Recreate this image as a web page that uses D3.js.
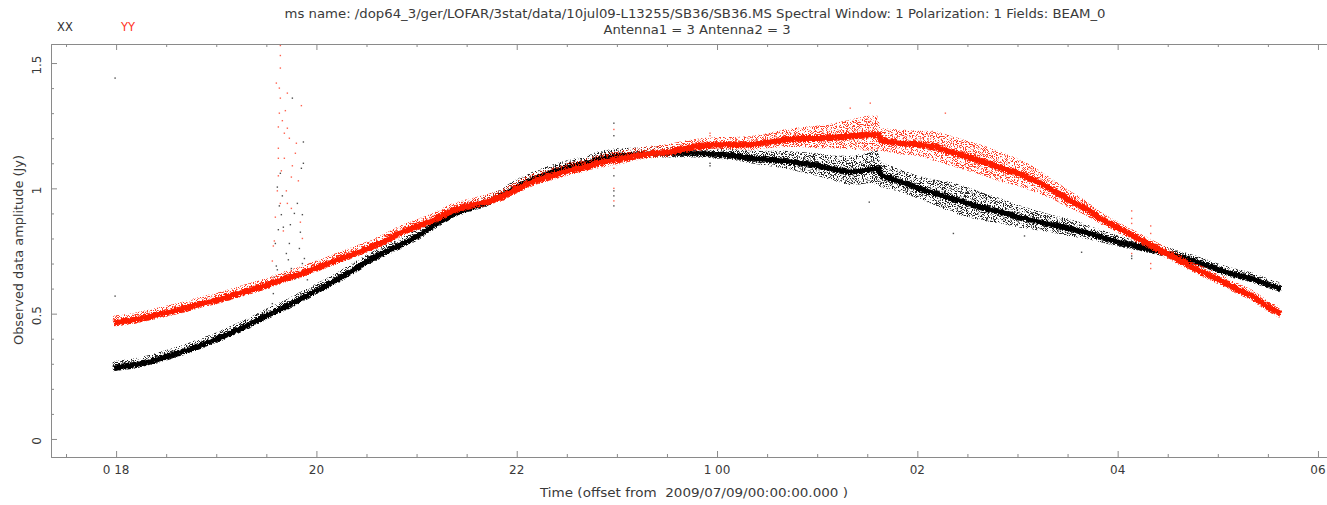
<!DOCTYPE html>
<html><head><meta charset="utf-8">
<script src="https://cdn.jsdelivr.net/npm/d3@7"></script>
<style>
html,body{margin:0;padding:0;background:#fff;}
svg{display:block;}
text{font-family:"DejaVu Sans",sans-serif;fill:#3a3a3a;}
</style>
</head><body>
<svg id="c" width="1327" height="505"></svg>
<script>
// ---------- data ----------
const sampleTimes = ["17:58","18:10","18:20","18:30","18:40","18:50",
 "19:00","19:10","19:20","19:30","19:40","19:50",
 "20:00","20:10","20:20","20:30","20:40","20:50",
 "21:00","21:10","21:20","21:30","21:40","21:50",
 "22:00","22:10","22:20","22:30","22:40","22:50",
 "23:00","23:10","23:20","23:30","23:40","23:50",
 "00:00","00:10","00:20","00:30","00:40","00:50",
 "01:00","01:10","01:20","01:30","01:36","01:38","01:50",
 "02:00","02:10","02:20","02:30","02:40","02:50",
 "03:00","03:10","03:20","03:30","03:40","03:50",
 "04:00","04:10","04:20","04:30","04:40","04:50",
 "05:00","05:10","05:20","05:30","05:37"];
const xxAmp = [0.29,0.30,0.315,0.335,0.355,0.38,
 0.405,0.435,0.465,0.50,0.53,0.565,
 0.60,0.635,0.675,0.715,0.75,0.78,
 0.815,0.86,0.90,0.925,0.945,0.975,
 1.015,1.045,1.07,1.09,1.105,1.125,
 1.135,1.14,1.145,1.145,1.145,1.145,
 1.14,1.135,1.125,1.12,1.115,1.105,
 1.095,1.08,1.07,1.08,1.085,1.055,1.03,
 1.005,0.985,0.965,0.945,0.925,0.91,
 0.89,0.875,0.86,0.845,0.83,0.81,
 0.79,0.775,0.76,0.745,0.725,0.705,
 0.68,0.66,0.645,0.62,0.605];
const yyAmp = [0.47,0.48,0.495,0.51,0.525,0.545,
 0.56,0.58,0.60,0.62,0.645,0.665,
 0.69,0.715,0.74,0.765,0.795,0.83,
 0.855,0.88,0.915,0.935,0.95,0.97,
 1.005,1.035,1.055,1.075,1.09,1.11,
 1.12,1.135,1.145,1.15,1.165,1.175,
 1.18,1.18,1.18,1.19,1.20,1.205,
 1.205,1.21,1.215,1.22,1.22,1.195,1.185,
 1.18,1.17,1.15,1.13,1.11,1.085,
 1.065,1.035,1.00,0.96,0.925,0.88,
 0.845,0.81,0.775,0.74,0.705,0.67,
 0.64,0.605,0.575,0.53,0.505];
// half-width of the scatter around each series
const xxSpread = [0.02,0.02,0.02,0.02,0.02,0.02,
 0.02,0.02,0.02,0.02,0.02,0.02,
 0.02,0.02,0.02,0.02,0.02,0.02,
 0.02,0.02,0.02,0.02,0.02,0.02,
 0.022,0.022,0.022,0.022,0.022,0.025,
 0.025,0.022,0.022,0.022,0.022,0.022,
 0.022,0.022,0.025,0.03,0.035,0.04,
 0.045,0.05,0.06,0.06,0.07,0.05,0.045,
 0.045,0.05,0.06,0.06,0.055,0.05,
 0.045,0.04,0.035,0.035,0.03,0.025,
 0.022,0.02,0.02,0.02,0.02,0.02,
 0.02,0.02,0.02,0.02,0.02];
const yySpread = [0.022,0.022,0.022,0.022,0.022,0.022,
 0.022,0.022,0.022,0.022,0.022,0.022,
 0.022,0.022,0.022,0.022,0.022,0.022,
 0.022,0.022,0.022,0.022,0.022,0.022,
 0.025,0.025,0.025,0.025,0.025,0.028,
 0.028,0.025,0.025,0.025,0.025,0.025,
 0.025,0.025,0.028,0.03,0.035,0.04,
 0.045,0.05,0.06,0.07,0.07,0.045,0.05,
 0.05,0.06,0.06,0.06,0.06,0.06,
 0.055,0.05,0.04,0.035,0.03,0.025,
 0.022,0.022,0.022,0.022,0.022,0.022,
 0.022,0.022,0.022,0.022,0.022];
// isolated points (time in hours from 2009/07/09 00:00, amplitude in Jy)
const xxOutTime = [17.99,17.99,19.76,19.87,19.64,19.87,19.85,19.61,19.81,19.65,19.86,19.67,19.74,19.62,19.84,
 19.59,19.73,19.72,19.86,19.61,19.89,19.58,19.79,19.91,19.57,19.56,
 19.63,19.66,19.70,19.78,19.83,19.88,19.60,19.69,19.90,19.75,
 22.97,22.97,22.97,22.97,22.97,22.97,23.93,23.93,25.52,26.36,27.64,27.07,28.14,28.14];
const xxOutAmp = [1.44,0.57,1.36,1.185,1.06,1.10,1.08,1.005,0.94,0.895,0.895,0.845,0.855,0.835,0.825,
 0.78,0.78,0.715,0.70,0.675,0.675,0.645,0.64,0.635,0.58,0.54,
 0.93,0.97,0.74,0.90,0.76,0.72,0.69,0.66,0.66,0.68,
 1.26,1.21,1.05,0.99,0.97,0.93,1.10,1.09,0.945,0.82,0.745,0.81,0.73,0.72];
const yyOutTime = [19.64,19.64,19.71,19.64,19.85,19.63,19.62,19.71,19.68,19.62,19.62,19.68,19.76,19.75,19.82,
 19.70,19.61,19.64,19.71,19.75,19.84,19.59,19.67,19.86,19.58,19.57,19.56,19.60,19.66,19.62,19.80,
 19.64,19.63,19.69,19.73,19.79,19.65,
 22.97,22.97,22.97,22.97,23.93,23.93,25.33,25.53,26.28,28.14,28.14,28.14,28.14,28.33,28.33,28.33,28.33];
const yyOutAmp = [1.57,1.53,1.38,1.36,1.33,1.30,1.245,1.24,1.22,1.16,1.12,1.12,1.09,1.045,1.03,
 0.99,0.99,0.94,0.94,0.92,0.865,0.885,0.83,0.80,0.79,0.77,0.71,1.42,1.27,1.05,1.18,
 1.48,1.40,1.31,1.20,1.14,1.07,
 1.235,1.08,1.0,0.95,1.22,1.21,1.32,1.34,1.30,0.91,0.88,0.86,0.74,0.85,0.82,0.70,0.68];
const xTickHours = [18,20,22,24,26,28,30];
const xTickLabels = ["0 18","20","22","1 00","02","04","06"];
const yTickValues = [0,0.5,1,1.5];
const yTickLabels = ["0","0.5","1","1.5"];
const seriesNames = ["XX","YY"];
const titleLines = ["ms name: /dop64_3/ger/LOFAR/3stat/data/10jul09-L13255/SB36/SB36.MS Spectral Window: 1 Polarization: 1 Fields: BEAM_0",
 "Antenna1 = 3 Antenna2 = 3"];
const xTitle = "Time (offset from  2009/07/09/00:00:00.000 )";
const yTitle = "Observed data amplitude (Jy)";

// ---------- layout ----------
const W = 1327, H = 505;
const L = 51, T = 44, B = 457, R = 1343;
const colXX = "#000000", colYY = "#ff1e00", axisCol = "#8a8a8a";

const svg = d3.select("#c");
const defs = svg.append("defs");
defs.append("clipPath").attr("id","plotclip").append("rect")
  .attr("x",L).attr("y",T).attr("width",R-L).attr("height",B-T);
const grain = defs.append("filter").attr("id","grain").attr("filterUnits","userSpaceOnUse")
  .attr("x",0).attr("y",0).attr("width",W).attr("height",H);
grain.append("feTurbulence").attr("type","turbulence").attr("baseFrequency","0.9")
  .attr("numOctaves",1).attr("seed",3).attr("result","n");
grain.append("feDisplacementMap").attr("in","SourceGraphic").attr("in2","n")
  .attr("scale",4).attr("xChannelSelector","R").attr("yChannelSelector","G");
const speck = defs.append("filter").attr("id","speck").attr("filterUnits","userSpaceOnUse")
  .attr("x",0).attr("y",0).attr("width",W).attr("height",H);
speck.append("feTurbulence").attr("type","fractalNoise").attr("baseFrequency","1.1")
  .attr("numOctaves",1).attr("seed",11).attr("result","noise");
speck.append("feColorMatrix").attr("in","noise").attr("type","matrix")
  .attr("values","0 0 0 0 0  0 0 0 0 0  0 0 0 0 0  14 0 0 0 -7.2").attr("result","mask");
speck.append("feComposite").attr("in","SourceGraphic").attr("in2","mask").attr("operator","in");

const toHours = s => { const [h,m] = s.split(":").map(Number); const v = h + m/60; return v < 12 ? v + 24 : v; };

const x = d3.scaleLinear().domain([17.35, 30.25]).range([L, R]);
const y = d3.scaleLinear().domain([-0.072, 1.576]).range([B, T]);

const series = [
  {name:"XX", col:colXX, amp:xxAmp, spread:xxSpread, ot:xxOutTime, oa:xxOutAmp, core:5.5},
  {name:"YY", col:colYY, amp:yyAmp, spread:yySpread, ot:yyOutTime, oa:yyOutAmp, core:6}
];
const hours = sampleTimes.map(toHours);

const plot = svg.append("g").attr("clip-path","url(#plotclip)");
series.forEach(s => {
  const pts = hours.map((h,i) => ({h, v:s.amp[i], d:s.spread[i]}));
  const area = d3.area().x(d => x(d.h)).y0(d => y(d.v - d.d)).y1(d => y(d.v + d.d));
  plot.append("path").datum(pts).attr("d", area)
    .attr("fill", s.col).attr("opacity", 0.85).attr("filter","url(#speck)");
  const line = d3.line().x(d => x(d.h)).y(d => y(d.v));
  plot.append("path").datum(pts).attr("d", line)
    .attr("fill","none").attr("stroke", s.col).attr("stroke-width", s.core)
    .attr("filter","url(#grain)");
  plot.append("g").selectAll("rect").data(s.ot.map((t,i) => ({t, v:s.oa[i]})))
    .join("rect").attr("x", d => x(d.t) - 0.7).attr("y", d => y(d.v) - 0.7)
    .attr("width",1.4).attr("height",1.4).attr("fill", s.col).attr("opacity",0.7);
});

// ---------- axes ----------
const minorX = d3.range(17.5, 30.3, 0.5).filter(h => xTickHours.indexOf(h) < 0);
const minorY = d3.range(0, 1.55, 0.1).filter(v => !yTickValues.some(t => Math.abs(t - v) < 1e-6));
const styleAxis = g => { g.select(".domain").attr("stroke", axisCol);
  g.selectAll(".tick line").attr("stroke", axisCol); g.selectAll(".tick text").remove(); };

svg.append("g").attr("transform",`translate(0,${B})`)
  .call(d3.axisBottom(x).tickValues(xTickHours).tickSize(-6).tickSizeOuter(0)).call(styleAxis);
svg.append("g").attr("transform",`translate(0,${B})`)
  .call(d3.axisBottom(x).tickValues(minorX).tickSize(-3).tickSizeOuter(0)).call(styleAxis);
svg.append("g").attr("transform",`translate(0,${T})`)
  .call(d3.axisTop(x).tickValues(xTickHours).tickSize(-6).tickSizeOuter(0)).call(styleAxis);
svg.append("g").attr("transform",`translate(0,${T})`)
  .call(d3.axisTop(x).tickValues(minorX).tickSize(-3).tickSizeOuter(0)).call(styleAxis);
svg.append("g").attr("transform",`translate(${L},0)`)
  .call(d3.axisLeft(y).tickValues(yTickValues).tickSize(-6).tickSizeOuter(0)).call(styleAxis);
svg.append("g").attr("transform",`translate(${L},0)`)
  .call(d3.axisLeft(y).tickValues(minorY).tickSize(-3).tickSizeOuter(0)).call(styleAxis);

// tick labels
svg.append("g").selectAll("text").data(xTickHours).join("text")
  .attr("x", d => x(d)).attr("y", B + 16.5).attr("text-anchor","middle")
  .attr("font-size", 12).text((d,i) => xTickLabels[i]);
svg.append("g").selectAll("text").data(yTickValues).join("text")
  .attr("transform", d => `translate(${L - 10},${y(d) + 2}) rotate(-90)`)
  .attr("text-anchor","middle").attr("font-size", 12).text((d,i) => yTickLabels[i]);

// titles
svg.append("text").attr("x", 695).attr("y", 18).attr("text-anchor","middle")
  .attr("font-size", 11.5).attr("textLength", 821).attr("lengthAdjust","spacingAndGlyphs").text(titleLines[0]);
svg.append("text").attr("x", 697).attr("y", 34).attr("text-anchor","middle")
  .attr("font-size", 11.5).attr("textLength", 187).attr("lengthAdjust","spacingAndGlyphs").text(titleLines[1]);
svg.append("text").attr("x", 694).attr("y", 497).attr("text-anchor","middle")
  .attr("font-size", 11.5).attr("textLength", 308).attr("lengthAdjust","spacingAndGlyphs")
  .style("white-space","pre").text(xTitle);
svg.append("text").attr("transform", "translate(23,250) rotate(-90)").attr("text-anchor","middle")
  .attr("font-size", 11.5).attr("textLength", 190).attr("lengthAdjust","spacingAndGlyphs").text(yTitle);

// legend
svg.append("g").selectAll("text").data(seriesNames).join("text")
  .attr("x", (d,i) => 57 + i*64).attr("y", 31).attr("font-size", 11.5)
  .style("fill", (d,i) => i === 0 ? "#333" : "#ff3322").text(d => d);
</script>
</body></html>
